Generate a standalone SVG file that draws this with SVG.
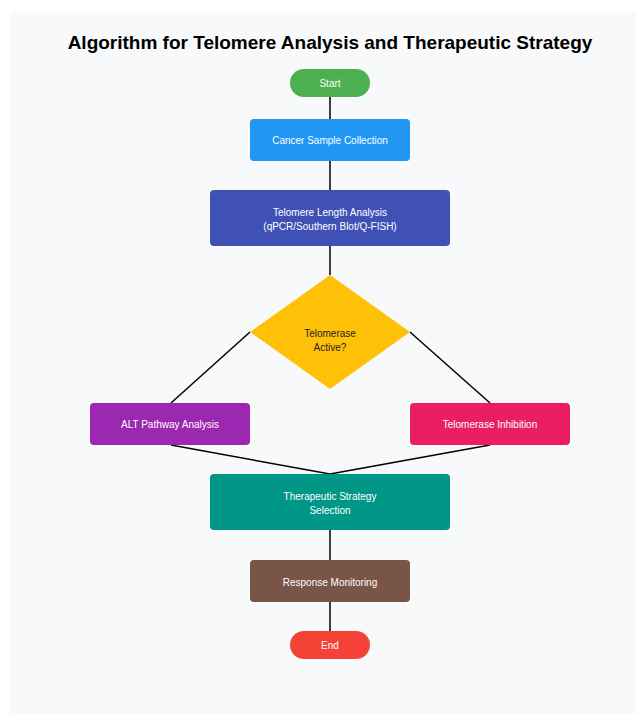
<svg xmlns="http://www.w3.org/2000/svg" width="637" height="714" viewBox="0 0 637 714">
<style>
text{font-family:"Liberation Sans",Arial,sans-serif;text-anchor:middle}
.t{font-size:10px;fill:#ffffff}
.d{font-size:10px;fill:#222222}
.title{font-size:19px;font-weight:bold;fill:#000000}
.c{stroke:#000000;stroke-width:1.5;fill:none}
</style>
<rect x="10" y="12" width="626" height="710" fill="#F8F9FA"/>
<text class="title" x="330" y="49">Algorithm for Telomere Analysis and Therapeutic Strategy</text>
<g id="connectors">
<line class="c" x1="330" y1="97" x2="330" y2="119"/>
<line class="c" x1="330" y1="161" x2="330" y2="190"/>
<line class="c" x1="330" y1="246" x2="330" y2="275"/>
<line class="c" x1="250" y1="332" x2="171" y2="403"/>
<line class="c" x1="410" y1="332" x2="490" y2="403"/>
<line class="c" x1="171" y1="445" x2="330" y2="474"/>
<line class="c" x1="490" y1="445" x2="330" y2="474"/>
<line class="c" x1="330" y1="530" x2="330" y2="560"/>
<line class="c" x1="330" y1="602" x2="330" y2="631"/>
</g>
<g id="start">
<rect x="290" y="69" width="80" height="28" rx="14" fill="#4CAF50"/>
<text class="t" x="330" y="87">Start</text>
</g>
<g id="collection">
<rect x="250" y="119" width="160" height="42" rx="4" fill="#2196F3"/>
<text class="t" x="330" y="144">Cancer Sample Collection</text>
</g>
<g id="length">
<rect x="210" y="190" width="240" height="56" rx="4" fill="#3F51B5"/>
<text class="t" x="330" y="215.5">Telomere Length Analysis</text>
<text class="t" x="330" y="229.5">(qPCR/Southern Blot/Q-FISH)</text>
</g>
<g id="decision">
<polygon points="330,275 410,332 330,389 250,332" fill="#FFC107"/>
<text class="d" x="330" y="336.5">Telomerase</text>
<text class="d" x="330" y="350.5">Active?</text>
</g>
<g id="alt">
<rect x="90" y="403" width="160" height="42" rx="4" fill="#9C27B0"/>
<text class="t" x="170" y="428">ALT Pathway Analysis</text>
</g>
<g id="inhibition">
<rect x="410" y="403" width="160" height="42" rx="4" fill="#E91E63"/>
<text class="t" x="490" y="428">Telomerase Inhibition</text>
</g>
<g id="strategy">
<rect x="210" y="474" width="240" height="56" rx="4" fill="#009688"/>
<text class="t" x="330" y="500">Therapeutic Strategy</text>
<text class="t" x="330" y="514">Selection</text>
</g>
<g id="monitoring">
<rect x="250" y="560" width="160" height="42" rx="4" fill="#795548"/>
<text class="t" x="330" y="585.5">Response Monitoring</text>
</g>
<g id="end">
<rect x="290" y="631" width="80" height="28" rx="14" fill="#F44336"/>
<text class="t" x="330" y="649">End</text>
</g>
</svg>
